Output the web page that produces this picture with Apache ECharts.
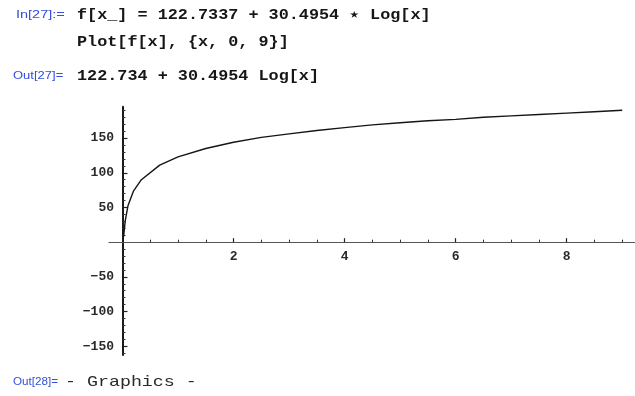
<!DOCTYPE html>
<html><head><meta charset="utf-8">
<script src="https://cdn.jsdelivr.net/npm/echarts@6/dist/echarts.min.js"></script>
<style>html,body{margin:0;padding:0;background:#fff}#c{width:635px;height:396px}</style>
</head><body><div id="c"></div>
<script>
const sampleX = [0.02, 0.05, 0.1, 0.2, 0.34, 0.67, 1.0, 1.5, 2.0, 2.5, 3.0, 3.5, 4.0, 4.5, 5.0, 5.5, 6.0, 6.5, 7.0, 7.5, 8.0, 8.5, 9.0];
const sampleY = [8, 31, 53, 74, 90, 111, 123, 135, 144, 151, 156, 161, 165, 169, 172, 175, 177, 180, 182, 184, 186, 188, 190];
// Tick positions / labels
const xMajorTicks = [2, 4, 6, 8];
const xMinorTicks = [0.5, 1, 1.5, 2.5, 3, 3.5, 4.5, 5, 5.5, 6.5, 7, 7.5, 8.5, 9];
const yMajorTicks = [-150, -100, -50, 50, 100, 150];
const yMinorTicks = [-160, -140, -130, -120, -110, -90, -80, -70, -60, -40, -30, -20, -10, 10, 20, 30, 40, 60, 70, 80, 90, 110, 120, 130, 140, 160, 170, 180, 190];
// Notebook texts
const inLabel = 'In[27]:=';
const inLine1 = 'f[x_] = 122.7337 + 30.4954 \u22c6 Log[x]';
const inLine2 = 'Plot[f[x], {x, 0, 9}]';
const outLabel1 = 'Out[27]=';
const outLine1 = '122.734 + 30.4954 Log[x]';
const outLabel2 = 'Out[28]=';
const outLine2 = '- Graphics -';

const chart = echarts.init(document.getElementById('c'), null, {renderer: 'canvas'});
const data = sampleX.map((x, i) => [x, sampleY[i]]);
const labelFont = {fontFamily: '"Liberation Mono"', fontWeight: 'bold', fontSize: 13, color: '#2a2a2a'};
const minus = v => String(v).replace('-', '\u2212');
const XMIN = -0.243, XMAX = 9.23, YMIN = -162.6, YMAX = 195.2;

function txt(text, x, y, font, fill, sx) {
  return {type: 'text', x: x, y: y, scaleX: sx, style: {text: text, font: font, fill: fill, verticalAlign: 'middle', align: 'left'}};
}
const blueFont = '10px "Liberation Sans"';
const codeFont = 'bold 14px "Liberation Mono"';

chart.setOption({
  animation: false,
  backgroundColor: '#fff',
  grid: {left: 109, right: 0, top: 106.7, bottom: 41, containLabel: false},
  xAxis: [
    {type: 'value', min: XMIN, max: XMAX, position: 'bottom',
      axisLine: {show: true, onZero: true, lineStyle: {color: '#555', width: 1.2}},
      axisTick: {show: true, inside: true, length: 4, customValues: xMajorTicks, lineStyle: {color: '#222', width: 1.2}},
      axisLabel: Object.assign({show: true, margin: -105, customValues: xMajorTicks}, labelFont),
      splitLine: {show: false}},
    {type: 'value', min: XMIN, max: XMAX, position: 'bottom',
      axisLine: {show: true, onZero: true, lineStyle: {color: 'rgba(0,0,0,0)'}},
      axisTick: {show: true, inside: true, length: 2.5, customValues: xMinorTicks, lineStyle: {color: '#333', width: 1}},
      axisLabel: {show: false},
      splitLine: {show: false}}
  ],
  yAxis: [
    {type: 'value', min: YMIN, max: YMAX, position: 'left',
      axisLine: {show: true, onZero: true, lineStyle: {color: '#1a1a1a', width: 2}},
      axisTick: {show: true, inside: true, length: 5, customValues: yMajorTicks, lineStyle: {color: '#222', width: 1.2}},
      axisLabel: Object.assign({show: true, margin: -5, customValues: yMajorTicks, formatter: minus}, labelFont),
      splitLine: {show: false}},
    {type: 'value', min: YMIN, max: YMAX, position: 'left',
      axisLine: {show: true, onZero: true, lineStyle: {color: 'rgba(0,0,0,0)'}},
      axisTick: {show: true, inside: true, length: 3, customValues: yMinorTicks, lineStyle: {color: '#333', width: 1}},
      axisLabel: {show: false},
      splitLine: {show: false}}
  ],
  series: [{
    type: 'line', xAxisIndex: 0, yAxisIndex: 0, data: data,
    showSymbol: false, symbol: 'none', smooth: false, clip: true,
    lineStyle: {color: '#151515', width: 1.4}
  }],
  graphic: [
    txt(inLabel, 16, 15, blueFont, '#3350d8', 1.45),
    txt(inLine1, 77, 15, codeFont, '#161616', 1.2),
    txt(inLine2, 77, 42, codeFont, '#161616', 1.2),
    txt(outLabel1, 13, 76, blueFont, '#3350d8', 1.3),
    txt(outLine1, 77, 76, codeFont, '#161616', 1.2),
    txt(outLabel2, 13, 382, blueFont, '#3350d8', 1.17),
    txt(outLine2, 65, 382, '15px "Liberation Mono"', '#2a2a2a', 1.22)
  ]
});
</script>
</body></html>
